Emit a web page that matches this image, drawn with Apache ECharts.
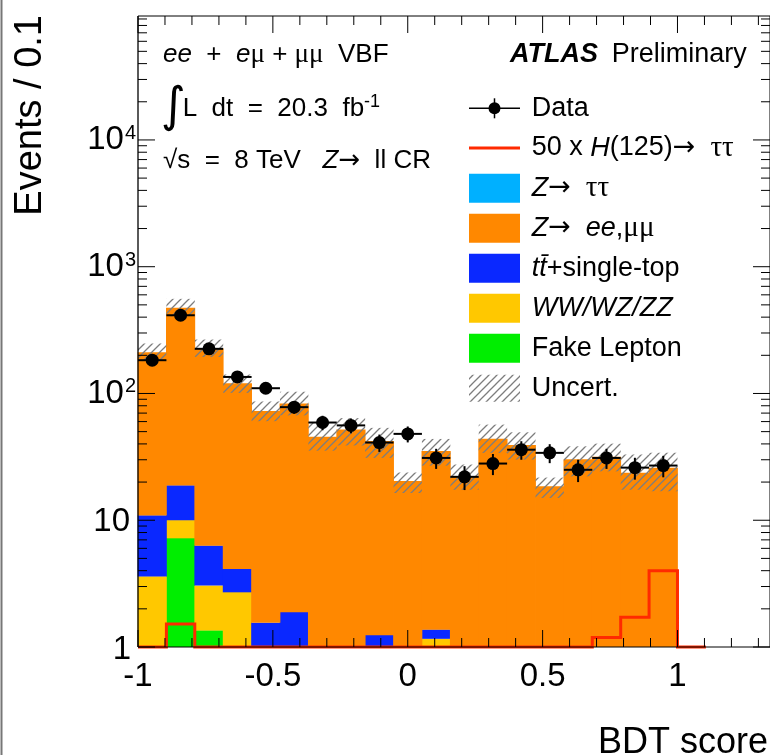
<!DOCTYPE html>
<html><head><meta charset="utf-8">
<script src="https://cdn.jsdelivr.net/npm/echarts@6/dist/echarts.min.js"></script>
<style>html,body{margin:0;padding:0;background:#fff;}#chart{width:770px;height:755px;}</style>
</head><body><div id="chart"></div>
<script>
// ---- data ----
// bin edges of the BDT score histogram (19 bins from -1 to 1, plus one empty overflow bin for the signal curve)
const binEdges = [-1, -0.8947, -0.7895, -0.6842, -0.5789, -0.4737, -0.3684, -0.2632, -0.1579, -0.0526,
  0.0526, 0.1579, 0.2632, 0.3684, 0.4737, 0.5789, 0.6842, 0.7895, 0.8947, 1.0, 1.1053];
const dataCounts = [183, 414, 225, 135, 110, 78, 59, 56, 41, 48, 31, 22, 28, 36, 34, 25, 31, 26, 27];
const dataErr    = [13.5, 20.3, 15.0, 11.6, 10.5, 8.8, 7.7, 7.5, 6.4, 6.9, 5.6, 4.7, 5.3, 6.0, 5.8, 5.0, 5.6, 5.1, 5.2];
const fakeLepton = [0, 7.2, 1.35, 0, 0, 0, 0, 0, 0, 0, 0, 0, 0, 0, 0, 0, 0, 0, 0];
const diboson    = [3.6, 2.8, 1.7, 2.7, 0, 0, 0, 0, 0, 0, 1.16, 0, 0, 0, 0, 0, 0, 0, 0];
const topQuark   = [7.3, 8.8, 3.25, 1.43, 1.55, 1.88, 0, 0, 1.24, 0, 0.21, 0, 0, 0, 0, 0, 0, 0, 0];
const zll        = [200, 455, 219, 116, 70.9, 81.3, 45.4, 51.9, 40.8, 20.3, 33.6, 22, 43.8, 39, 18.5, 30.1, 31.6, 23.6, 25.9];
const ztautau    = [0, 0, 0, 0, 0, 0, 0, 0, 0, 0, 0, 0, 0, 0, 0, 0, 0, 0, 0];
const uncUp      = [37, 84, 41, 21, 14, 20, 14, 12, 11.5, 3.5, 8.8, 5.5, 13, 10.4, 3.2, 8.2, 8.6, 9.4, 8.1];
const uncDown    = [31, 67, 31, 19, 12, 16, 10, 13, 11, 3.9, 8, 4.6, 9.8, 8.9, 3.5, 7.9, 7.3, 6.2, 9];
const higgs50    = [0, 1.52, 0, 0, 0, 0, 0, 0, 0, 0, 0, 0, 0, 0, 0, 0, 1.19, 1.72, 4.0, 0];
const xTickLabels = [-1, -0.5, 0, 0.5, 1];

// ---- axis setup ----
const X_MIN = -1, X_MAX = 1.343, Y_MIN = 1, Y_MAX = 95000;
const FONT = '"Liberation Sans", Arial, Helvetica, sans-serif';
const SERIF = '"Liberation Serif", "DejaVu Serif", serif';
const ARROWF = '"DejaVu Sans", sans-serif';

const stackDefs = [
  {name: 'Fake Lepton', vals: fakeLepton, color: '#00ee00'},
  {name: 'WW/WZ/ZZ', vals: diboson, color: '#ffc800'},
  {name: 'tt+single-top', vals: topQuark, color: '#0a28ff'},
  {name: 'Z->ee,mumu', vals: zll, color: '#ff8800'},
  {name: 'Z->tautau', vals: ztautau, color: '#00b0ff'}
];

function hatchCanvas() {
  const s = 8, c = document.createElement('canvas');
  c.width = s; c.height = s;
  const g = c.getContext('2d');
  g.strokeStyle = '#7d7d7d'; g.lineWidth = 1.3;
  g.beginPath();
  g.moveTo(-1, s + 1); g.lineTo(s + 1, -1);
  g.moveTo(-s / 2 - 1, s / 2 + 1); g.lineTo(s / 2 + 1, -s / 2 - 1);
  g.moveTo(s / 2 - 1, s * 1.5 + 1); g.lineTo(s * 1.5 + 1, s / 2 - 1);
  g.stroke();
  return c;
}
const HATCH = {image: hatchCanvas(), repeat: 'repeat'};

const nBins = dataCounts.length;
const cum = new Array(nBins).fill(0);
const series = [];
stackDefs.forEach(def => {
  const d = [];
  for (let i = 0; i < nBins; i++) {
    const lo = cum[i], hi = cum[i] + def.vals[i];
    cum[i] = hi;
    d.push([binEdges[i], binEdges[i + 1], lo, hi]);
  }
  series.push({
    type: 'custom', name: def.name, z: 2, data: d, encode: {x: [0, 1], y: [2, 3]},
    renderItem: (params, api) => {
      const x0 = api.value(0), x1 = api.value(1), lo = api.value(2), hi = api.value(3);
      if (!(hi > Y_MIN) || hi - lo <= 0) return null;
      const p0 = api.coord([x0, Math.max(lo, Y_MIN)]);
      const p1 = api.coord([x1, hi]);
      // small overlap so neighbouring bins do not show anti-aliasing seams
      return {type: 'rect', shape: {x: p0[0] - 0.4, y: p1[1] - 0.2, width: p1[0] - p0[0] + 0.8, height: p0[1] - p1[1] + 0.2},
        style: {fill: def.color}};
    }
  });
});

// uncertainty band
const bandData = [];
for (let i = 0; i < nBins; i++) bandData.push([binEdges[i], binEdges[i + 1], cum[i] - uncDown[i], cum[i] + uncUp[i]]);
series.push({
  type: 'custom', name: 'Uncert.', z: 3, data: bandData, encode: {x: [0, 1], y: [2, 3]},
  renderItem: (params, api) => {
    const p0 = api.coord([api.value(0), Math.max(api.value(2), Y_MIN)]);
    const p1 = api.coord([api.value(1), api.value(3)]);
    return {type: 'rect', shape: {x: p0[0], y: p1[1], width: p1[0] - p0[0], height: p0[1] - p1[1]},
      style: {fill: HATCH}};
  }
});

// signal x50 step line
const higgsData = higgs50.map((v, i) => [binEdges[i], binEdges[i + 1], v]);
series.push({
  type: 'custom', name: '50 x H(125)', z: 4, data: higgsData, encode: {x: [0, 1], y: 2},
  renderItem: (params, api) => {
    if (params.dataIndex !== 0) return null;
    const pts = [];
    higgsData.forEach(b => {
      const y = Math.max(b[2], Y_MIN);
      pts.push(api.coord([b[0], y]));
      pts.push(api.coord([b[1], y]));
    });
    const first = api.coord([higgsData[0][0], Y_MIN]);
    const last = api.coord([higgsData[higgsData.length - 1][1], Y_MIN]);
    return {type: 'polyline', shape: {points: [first].concat(pts, [last])},
      style: {stroke: '#ff2a00', lineWidth: 3, fill: null, lineJoin: 'miter'}};
  }
});

// data points
const pointData = dataCounts.map((v, i) => [binEdges[i], binEdges[i + 1], v, dataErr[i]]);
series.push({
  type: 'custom', name: 'Data', z: 5, data: pointData, encode: {x: [0, 1], y: 2},
  renderItem: (params, api) => {
    const x0 = api.value(0), x1 = api.value(1), v = api.value(2), e = api.value(3);
    const xc = (x0 + x1) / 2;
    const pL = api.coord([x0, v]), pR = api.coord([x1, v]);
    const pT = api.coord([xc, v + e]), pB = api.coord([xc, Math.max(v - e, Y_MIN)]);
    const pc = api.coord([xc, v]);
    return {type: 'group', children: [
      {type: 'line', shape: {x1: pL[0], y1: pL[1], x2: pR[0], y2: pR[1]}, style: {stroke: '#000', lineWidth: 2}},
      {type: 'line', shape: {x1: pT[0], y1: pT[1], x2: pB[0], y2: pB[1]}, style: {stroke: '#000', lineWidth: 2}},
      {type: 'circle', shape: {cx: pc[0], cy: pc[1], r: 6.5}, style: {fill: '#000'}}
    ]};
  }
});

// frame and ticks (drawn above histograms, like ROOT)
series.push({
  type: 'custom', name: 'frame', z: 10, data: [[0, 1]], encode: {x: 0, y: 1}, silent: true,
  renderItem: (params, api) => {
    const ch = [];
    const tl = api.coord([X_MIN, Y_MAX]), br = api.coord([X_MAX, Y_MIN]);
    const L = tl[0], T = tl[1], R = br[0], B = br[1];
    const ln = (x1, y1, x2, y2, w) => ch.push({type: 'line', shape: {x1, y1, x2, y2}, style: {stroke: '#000', lineWidth: w || 1}});
    ln(L, T, R, T); ln(L, B, R, B); ln(L, T, L, B, 1.3); ln(R, T, R, B);
    for (let k = -10; k <= 13; k++) {
      const v = k / 10;
      const major = (k % 5 === 0);
      const len = major ? 17 : 9;
      const x = api.coord([v, Y_MIN])[0];
      ln(x, B, x, B - len); ln(x, T, x, T + len);
    }
    for (let e = 0; e <= 4; e++) {
      for (let m = 1; m <= 9; m++) {
        const v = m * Math.pow(10, e);
        if (v > Y_MAX) continue;
        const len = (m === 1) ? 17 : 9;
        const y = api.coord([X_MIN, v])[1];
        ln(L, y, L + len, y); ln(R, y, R - len, y);
      }
    }
    return {type: 'group', children: ch};
  }
});

const legendRows = [108.3, 148, 188.3, 228.3, 268.3, 308.3, 348.3, 388.3];
const LX0 = 469, LX1 = 520, LTX = 531.7;
const richStyles = {
  i: {fontStyle: 'italic', fontFamily: FONT, fontSize: 27},
  g: {fontFamily: SERIF, fontSize: 29},
  a: {fontFamily: ARROWF, fontSize: 27},
  n: {fontFamily: FONT, fontSize: 27}
};
function legText(y, text) {
  return {type: 'text', x: LTX, y: y, z: 20, style: {text, fontFamily: FONT, fontSize: 27, fill: '#000',
    verticalAlign: 'middle', align: 'left', rich: richStyles}};
}
const legendTexts = ['Data', '50 x {i|H}(125){a|\u2192}  {g|\u03c4\u03c4}', '{i|Z}{a|\u2192}  {g|\u03c4\u03c4}',
  '{i|Z}{a|\u2192}  {i|ee},{g|\u03bc\u03bc}', '{i|tt\u0304}+single-top', '{i|WW/WZ/ZZ}', 'Fake Lepton', 'Uncert.'];
const boxColors = [null, null, '#00b0ff', '#ff8800', '#0a28ff', '#ffc800', '#00ee00'];

const graphics = [];
graphics.push({type: 'line', shape: {x1: 1.5, y1: 0, x2: 1.5, y2: 755}, style: {stroke: '#777', lineWidth: 2}});
// legend symbols
graphics.push({type: 'line', shape: {x1: LX0, y1: legendRows[0], x2: LX1, y2: legendRows[0]}, style: {stroke: '#000', lineWidth: 1.5}});
graphics.push({type: 'line', shape: {x1: (LX0 + LX1) / 2, y1: legendRows[0] - 10, x2: (LX0 + LX1) / 2, y2: legendRows[0] + 10}, style: {stroke: '#000', lineWidth: 1.5}});
graphics.push({type: 'circle', shape: {cx: (LX0 + LX1) / 2, cy: legendRows[0], r: 6}, style: {fill: '#000'}});
graphics.push({type: 'line', shape: {x1: LX0, y1: legendRows[1], x2: LX1, y2: legendRows[1]}, style: {stroke: '#ff2a00', lineWidth: 3}});
for (let r = 2; r <= 6; r++) {
  graphics.push({type: 'rect', shape: {x: LX0, y: legendRows[r] - 14.5, width: LX1 - LX0, height: 29}, style: {fill: boxColors[r]}});
}
graphics.push({type: 'rect', shape: {x: LX0, y: legendRows[7] - 13.5, width: LX1 - LX0, height: 27}, style: {fill: HATCH}});
legendTexts.forEach((t, r) => graphics.push(legText(legendRows[r], t)));

// ATLAS label
graphics.push({type: 'text', x: 510, y: 55, style: {text: 'ATLAS', fontFamily: FONT, fontSize: 27, fontWeight: 'bold', fontStyle: 'italic', fill: '#000', verticalAlign: 'middle'}});
graphics.push({type: 'text', x: 611.7, y: 55, style: {text: 'Preliminary', fontFamily: FONT, fontSize: 27, fill: '#000', verticalAlign: 'middle'}});

// left annotations
const AS = 26;
const annRich = {
  i: {fontStyle: 'italic', fontFamily: FONT, fontSize: AS},
  g: {fontFamily: SERIF, fontSize: AS + 1},
  a: {fontFamily: ARROWF, fontSize: AS},
  sup: {fontFamily: FONT, fontSize: 18, verticalAlign: 'top', lineHeight: 32}
};
graphics.push({type: 'text', x: 163, y: 55, style: {text: '{i|ee}  +  {i|e}{g|\u03bc} + {g|\u03bc\u03bc}  VBF', fontFamily: FONT, fontSize: AS, fill: '#000', verticalAlign: 'middle', rich: annRich}});
graphics.push({type: 'text', x: 161, y: 109, style: {text: '\u222b', fontFamily: '"DejaVu Sans", sans-serif', fontSize: 48, fill: '#000', verticalAlign: 'middle'}});
graphics.push({type: 'text', x: 182.7, y: 109, style: {text: 'L  dt  =  20.3  fb{sup|-1}', fontFamily: FONT, fontSize: AS, fill: '#000', verticalAlign: 'middle', lineHeight: 32, rich: annRich}});
graphics.push({type: 'text', x: 163, y: 161, style: {text: '\u221as  =  8 TeV   {i|Z}{a|\u2192}  ll CR', fontFamily: FONT, fontSize: AS, fill: '#000', verticalAlign: 'middle', rich: annRich}});

// axis titles
graphics.push({type: 'text', x: 50, y: 15, rotation: Math.PI / 2, style: {text: 'Events / 0.1', fontFamily: FONT, fontSize: 38, fill: '#000', align: 'right', verticalAlign: 'bottom'}});
graphics.push({type: 'text', x: 768, y: 761, style: {text: 'BDT score', fontFamily: FONT, fontSize: 36, fill: '#000', align: 'right', verticalAlign: 'bottom'}});

const chart = echarts.init(document.getElementById('chart'), null, {renderer: 'canvas'});
chart.setOption({
  animation: false,
  backgroundColor: '#fff',
  grid: {left: 138, top: 16, width: 633, height: 631, containLabel: false},
  xAxis: {
    type: 'value', min: X_MIN, max: X_MAX, interval: 0.5,
    axisLine: {show: false}, axisTick: {show: false}, splitLine: {show: false},
    axisLabel: {
      show: true, margin: 13, color: '#000', fontFamily: FONT, fontSize: 33, showMaxLabel: false,
      formatter: v => xTickLabels.some(t => Math.abs(t - v) < 1e-6) ? String(Math.round(v * 10) / 10) : ''
    }
  },
  yAxis: {
    type: 'log', logBase: 10, min: Y_MIN, max: Y_MAX,
    axisLine: {show: false}, axisTick: {show: false}, splitLine: {show: false},
    axisLabel: {
      show: true, margin: 2, color: '#000', fontFamily: FONT, fontSize: 33,
      formatter: v => {
        const l = Math.log10(v), e = Math.round(l);
        if (Math.abs(l - e) > 1e-6) return '';
        if (e === 0) return '{one|1}';
        if (e === 1) return '{n|10}';
        return '10{sup|' + e + '}';
      },
      rich: {
        one: {fontFamily: FONT, fontSize: 33, padding: [6, 5, 0, 0]},
        n: {fontFamily: FONT, fontSize: 33, padding: [4, 6, 0, 0]},
        sup: {fontFamily: FONT, fontSize: 20, verticalAlign: 'top', padding: [0, 0, 0, 1]}
      }
    }
  },
  graphic: {elements: graphics},
  series: series
});
</script>
</body></html>
